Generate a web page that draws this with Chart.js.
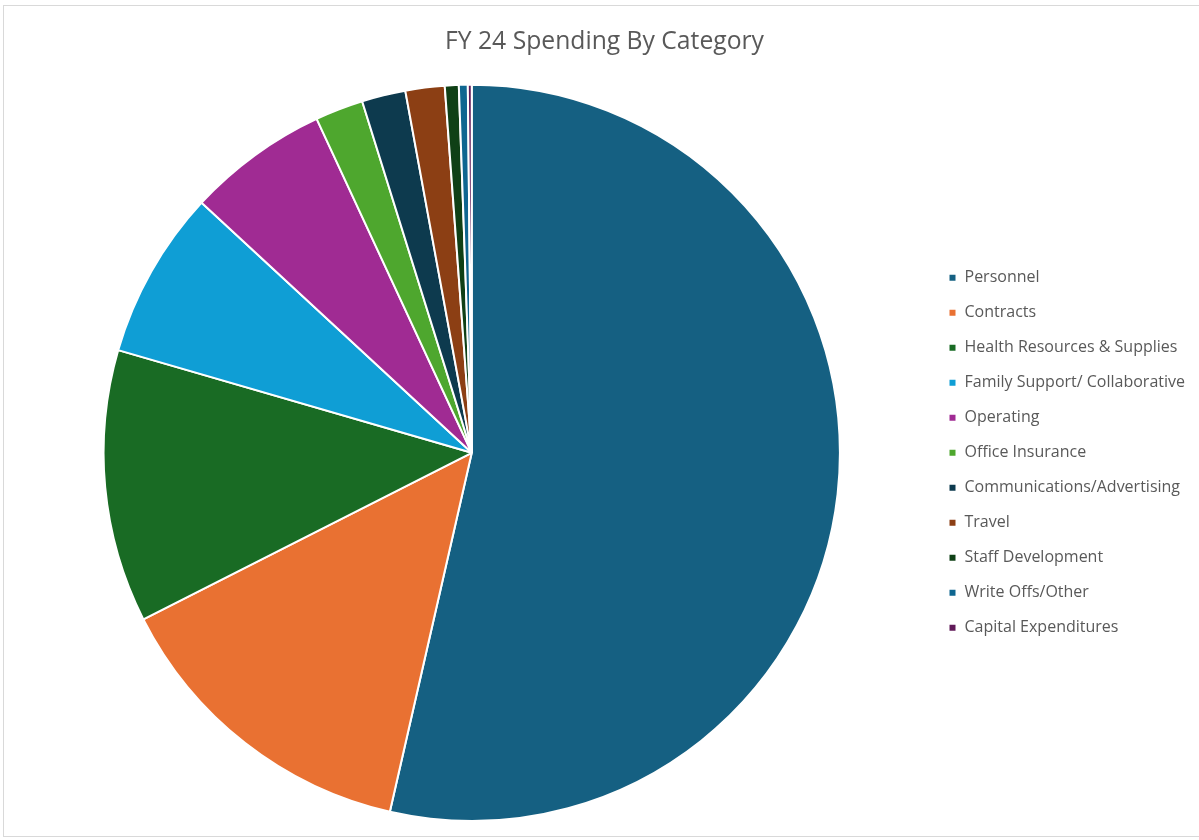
<!DOCTYPE html>
<html>
<head>
<meta charset="utf-8">
<title>FY 24 Spending By Category</title>
<script src="https://cdn.jsdelivr.net/npm/chart.js@4"></script>
<style>
  html, body { margin: 0; padding: 0; background: #fff; }
  #frame { position: absolute; left: 3px; top: 5px; width: 1200px; height: 832px; border: 1px solid #d9d9d9; box-sizing: border-box; }
  #wrap { position: absolute; left: 0; top: 0; width: 1199px; height: 840px; }
</style>
</head>
<body>
<div id="frame"></div>
<div id="wrap"><canvas id="spendChart"></canvas></div>
<script>
// --- Data (share of FY 24 spending) ---
const categories = [
  'Personnel',
  'Contracts',
  'Health Resources & Supplies',
  'Family Support/ Collaborative',
  'Operating',
  'Office Insurance',
  'Communications/Advertising',
  'Travel',
  'Staff Development',
  'Write Offs/Other',
  'Capital Expenditures'
];
const spendShare = [53.57, 13.96, 11.97, 7.39, 6.19, 2.11, 1.92, 1.72, 0.61, 0.39, 0.17];
const sliceColors = [
  '#156082', '#e97132', '#196b24', '#0f9ed5', '#a02b93', '#4ea72e',
  '#0d3a4e', '#8c3f14', '#0f4016', '#0e6690', '#601a58'
];

const fontFamily = "'Open Sans', 'Noto Sans', sans-serif";
const textGray = '#595959';

function renderChart() {
  const ctx = document.getElementById('spendChart').getContext('2d');
  new Chart(ctx, {
    type: 'pie',
    data: {
      labels: categories,
      datasets: [{
        data: spendShare,
        backgroundColor: sliceColors,
        borderColor: '#ffffff',
        borderWidth: 2
      }]
    },
    options: {
      responsive: true,
      maintainAspectRatio: false,
      animation: false,
      events: [],
      layout: { padding: { left: 14, right: 4, top: 0, bottom: 18 } },
      plugins: {
        title: {
          display: true,
          text: 'FY 24 Spending By Category',
          color: textGray,
          font: { family: fontFamily, size: 24.7, weight: 'normal' },
          padding: { top: 27, bottom: 27 }
        },
        legend: {
          position: 'right',
          fullSize: false,
          labels: {
            color: textGray,
            font: { family: fontFamily, size: 16 },
            boxWidth: 8,
            boxHeight: 8,
            padding: 19
          }
        },
        tooltip: { enabled: false }
      }
    }
  });
}

renderChart();
</script>
</body>
</html>
